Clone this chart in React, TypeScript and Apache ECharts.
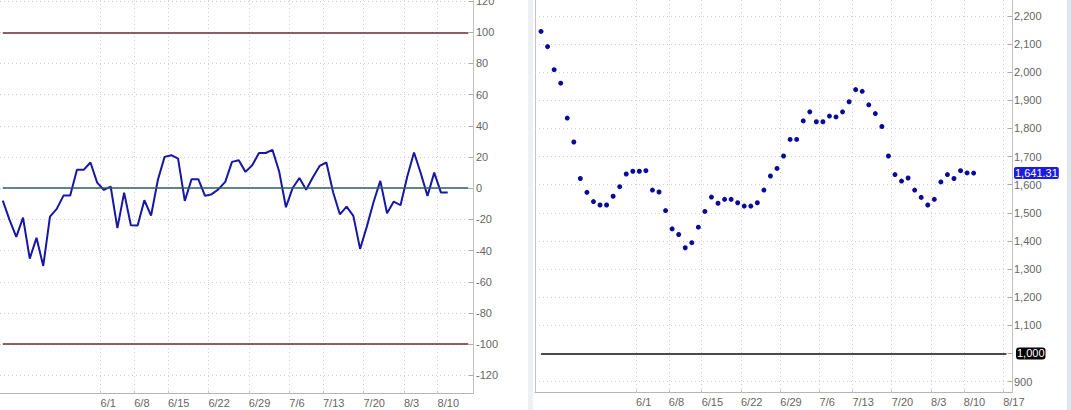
import React, { useEffect, useRef } from "react";
import * as echarts from "echarts";

// Oscillator (left panel), one value per session
const oscillator = [
  -7.9, -20.3, -31.2, -18.8, -45.1, -31.8, -49.8, -18.2, -13.2, -4.7,
  -4.7, 11.8, 11.8, 16.5, 3.6, -1.1, 1.1, -25.6, -2.8, -23.7,
  -23.9, -7.7, -17.5, 5.3, 20.1, 21.2, 19.0, -8.1, 5.8, 5.8,
  -4.9, -3.8, -0.6, 4.1, 16.9, 17.9, 10.5, 14.7, 22.6, 22.6,
  24.6, 10.7, -12.2, 0.2, 6.6, -0.9, 7.1, 14.3, 16.5, -2.6,
  -16.7, -11.8, -17.7, -38.9, -24.6, -8.8, 4.7, -16.0, -8.5, -10.9,
  7.5, 22.9, 9.6, -4.9, 10.0, -2.8, -2.8,
];

// Price (right panel), one value per session
const price = [
  2145, 2091, 2009, 1961, 1837, 1752, 1622, 1573, 1540, 1528,
  1528, 1559, 1593, 1638, 1648, 1648, 1650, 1581, 1574, 1508,
  1443, 1423, 1376, 1394, 1449, 1505, 1556, 1534, 1548, 1548,
  1536, 1524, 1524, 1536, 1581, 1631, 1658, 1702, 1761, 1761,
  1827, 1859, 1824, 1824, 1844, 1841, 1859, 1895, 1938, 1932,
  1884, 1853, 1807, 1702, 1636, 1613, 1624, 1581, 1555, 1528,
  1548, 1610, 1636, 1622, 1650, 1642, 1641.31,
];

// Date ticks (positions on the session index axis) and their labels
const tickPositions = [14.5, 19.5, 24.5, 30.5, 36.5, 42.5, 47.5, 53.5, 59.5, 64.5, 70.5];
const tickLabels = ["6/1", "6/8", "6/15", "6/22", "6/29", "7/6", "7/13", "7/20", "8/3", "8/10", "8/17"];

const oscTicks = [-120, -100, -80, -60, -40, -20, 0, 20, 40, 60, 80, 100, 120];
const priceTicks = [900, 1000, 1100, 1200, 1300, 1400, 1500, 1600, 1700, 1800, 1900, 2000, 2100, 2200];

const oscBands = [100, -100];
const oscZero = 0;
const baseLevel = 1000;

const FONT = "'Liberation Sans', Arial, sans-serif";
const LABEL_COLOR = "#666666";
const GRID_LINE = { color: "#cfcfcf", width: 1, type: [1, 3] as any };
const CLEAR = "rgba(0,0,0,0)";

function fmtThousands(v: number, digits = 0) {
  return v.toLocaleString("en-US", { minimumFractionDigits: digits, maximumFractionDigits: digits });
}

function dateLabel(v: number) {
  const i = tickPositions.indexOf(v);
  return i >= 0 ? tickLabels[i] : "";
}

export default function App() {
  const ref = useRef<HTMLDivElement>(null);

  useEffect(() => {
    if (!ref.current) return;
    const chart = echarts.init(ref.current, undefined, { renderer: "svg" });
    const last = price[price.length - 1];

    const xCommon = {
      type: "value" as const,
      axisLine: { show: true, onZero: false, lineStyle: { color: "#b5b5b5", width: 1 } },
      axisTick: { show: true, inside: true, length: 3, lineStyle: { color: "#c8c8c8" }, customValues: tickPositions },
      axisLabel: {
        customValues: tickPositions,
        formatter: (v: number) => dateLabel(v),
        align: "left",
        margin: 4,
        fontSize: 11,
        color: LABEL_COLOR,
        fontFamily: FONT,
      },
      splitLine: { show: true, lineStyle: GRID_LINE },
    };

    const yCommon = {
      type: "value" as const,
      position: "right" as const,
      axisLine: { show: true, onZero: false, lineStyle: { color: "#c2c2c2", width: 1 } },
      axisTick: { show: true, inside: true, length: 4, lineStyle: { color: "#aaa" } },
      splitLine: { show: true, lineStyle: GRID_LINE },
    };

    const boxLabel = (text: string, bg: string, dist: number, radius: number) => ({
      show: true,
      position: "end",
      distance: dist,
      formatter: () => text,
      color: "#fff",
      backgroundColor: bg,
      borderRadius: radius,
      padding: [1, 1, 0, 1],
      fontSize: 11,
      lineHeight: 11,
      fontFamily: FONT,
    });

    chart.setOption({
      animation: false,
      backgroundColor: "#ffffff",
      grid: [
        { left: 0, top: 0, width: 473, height: 393.5, containLabel: false, outerBoundsMode: "none" },
        { left: 535, top: 0, width: 477, height: 392.7, containLabel: false, outerBoundsMode: "none" },
      ],
      xAxis: [
        { ...xCommon, gridIndex: 0, min: -0.415, max: 69.75 },
        { ...xCommon, gridIndex: 1, min: -0.92, max: 71.85 },
      ],
      yAxis: [
        {
          ...yCommon,
          gridIndex: 0,
          min: -131.6,
          max: 120.7,
          axisTick: { ...yCommon.axisTick, customValues: oscTicks },
          axisLabel: {
            customValues: oscTicks,
            margin: 3,
            fontSize: 11,
            color: LABEL_COLOR,
            fontFamily: FONT,
          },
        },
        {
          ...yCommon,
          gridIndex: 1,
          min: 860.6,
          max: 2256.7,
          axisTick: { ...yCommon.axisTick, customValues: priceTicks },
          axisLabel: {
            customValues: priceTicks,
            margin: 2,
            fontSize: 11,
            color: LABEL_COLOR,
            fontFamily: FONT,
            formatter: (v: number) => (v === baseLevel ? "" : fmtThousands(v)),
          },
        },
      ],
      graphic: [
        { type: "rect", left: 528, top: 0, shape: { width: 5, height: 410 }, style: { fill: "#edf1f4" }, silent: true },
        { type: "rect", left: 1067, top: 0, shape: { width: 4, height: 410 }, style: { fill: "#dfe7ec" }, silent: true },
        { type: "line", shape: { x1: 535.5, y1: 0, x2: 535.5, y2: 393 }, style: { stroke: "#c4c4c4", lineWidth: 1 }, silent: true },
      ],
      series: [
        {
          type: "line",
          xAxisIndex: 0,
          yAxisIndex: 0,
          data: oscillator.map((v, i) => [i, v]),
          showSymbol: false,
          lineStyle: { color: "#1717a6", width: 2 },
          itemStyle: { color: "#1717a6" },
          z: 3,
          markLine: {
            silent: true,
            symbol: "none",
            label: { show: false },
            data: [
              ...oscBands.map((b) => [
                { coord: [0, b], lineStyle: { color: "#6e2a2e", width: 1.5, type: "solid" } },
                { coord: [69.05, b] },
              ]),
              [
                { coord: [0, oscZero], lineStyle: { color: "#2f5d62", width: 1.5, type: "solid" } },
                { coord: [69.05, oscZero] },
              ],
            ],
          },
        },
        {
          type: "scatter",
          xAxisIndex: 1,
          yAxisIndex: 1,
          data: price.map((v, i) => [i, v]),
          symbol: "circle",
          symbolSize: 5,
          itemStyle: { color: "#0a0a9a", opacity: 1 },
          z: 3,
          markLine: {
            silent: true,
            symbol: "none",
            data: [
              [
                { coord: [0, baseLevel], lineStyle: { color: "#4a4a4a", width: 2, type: "solid" }, label: { show: false } },
                { coord: [71.0, baseLevel] },
              ],
              {
                yAxis: baseLevel,
                lineStyle: { color: CLEAR, width: 1 },
                label: boxLabel(fmtThousands(baseLevel), "#000000", 4, 3),
              },
              {
                yAxis: last,
                lineStyle: { color: CLEAR, width: 1 },
                label: boxLabel(fmtThousands(last, 2), "#1c1ce0", 2, 2),
              },
            ],
          },
        },
      ],
    });

    return () => chart.dispose();
  }, []);

  return (
    <div
      ref={ref}
      style={{ position: "fixed", left: 0, top: 0, width: 1071, height: 410, background: "#fff" }}
    />
  );
}
